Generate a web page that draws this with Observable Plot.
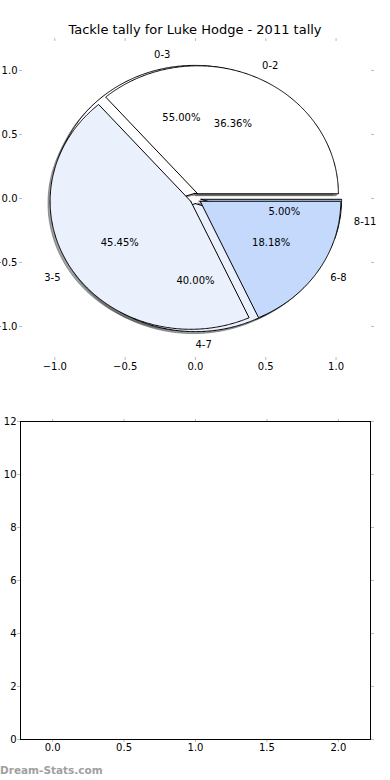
<!DOCTYPE html>
<html><head><meta charset="utf-8">
<script src="https://cdn.jsdelivr.net/npm/d3@7"></script>
<script src="https://cdn.jsdelivr.net/npm/@observablehq/plot@0.6"></script>
<style>
body{margin:0;background:#fff;width:390px;height:780px;position:relative;overflow:hidden;font-family:"DejaVu Sans",sans-serif;}
#title{position:absolute;left:0;top:22px;width:390px;text-align:center;font-size:13px;line-height:15px;color:#000;}
#pie{position:absolute;left:0;top:30px;}
#bars{position:absolute;left:0;top:410px;}
#credit{position:absolute;left:0;top:763px;font-size:10.5px;line-height:14px;font-weight:bold;color:#a0a0a0;}
</style></head><body>
<div id="title">Tackle tally for Luke Hodge - 2011 tally</div>
<div id="pie"></div>
<div id="bars"></div>
<div id="credit">Dream-Stats.com</div>
<script>
// ---- data ----
const categoriesA = ["0-2", "3-5", "6-8"];
const countsA = [4, 5, 2];
const categoriesB = ["0-3", "4-7", "8-11"];
const countsB = [11, 8, 1];
const pieTicks = [-1, -0.5, 0, 0.5, 1];
const barXTicks = [0, 0.5, 1, 1.5, 2];
const barYTicks = [0, 2, 4, 6, 8, 10, 12];
const barCategories = [];
const barValues = [];

// ---- styling ----
const sliceColors = ["#ffffff", "#eaf1fd", "#c5d9fd"];
const explode = 0.04;
const shadowOffset = [-0.015, -0.015];
const tickGrey = "#bbbbbb";

function buildPie(counts, labels) {
  const total = d3.sum(counts);
  let cum = 0;
  return counts.map((c, i) => {
    const f1 = cum; cum += c / total; const f2 = cum;
    const a1 = 2 * Math.PI * f1, a2 = 2 * Math.PI * f2, am = (a1 + a2) / 2;
    const cx = explode * Math.cos(am), cy = explode * Math.sin(am);
    const n = Math.max(2, Math.ceil((a2 - a1) / (Math.PI / 360)));
    const pts = [{x: cx, y: cy}];
    for (let k = 0; k <= n; k++) {
      const a = a1 + (a2 - a1) * k / n;
      pts.push({x: cx + Math.cos(a), y: cy + Math.sin(a)});
    }
    pts.push({x: cx, y: cy});
    const base = d3.rgb(sliceColors[i]);
    const shade = d3.rgb(base.r * 0.3, base.g * 0.3, base.b * 0.3).formatHex();
    return {
      pts,
      shadow: pts.map(p => ({x: p.x + shadowOffset[0], y: p.y + shadowOffset[1]})),
      color: sliceColors[i],
      shade,
      label: {x: cx + 1.1 * Math.cos(am), y: cy + 1.1 * Math.sin(am), text: labels[i]},
      pct: {x: cx + 0.6 * Math.cos(am), y: cy + 0.6 * Math.sin(am), text: (100 * c / total).toFixed(2) + "%"}
    };
  });
}

const pieB = buildPie(countsB, categoriesB); // drawn first (underneath)
const pieA = buildPie(countsA, categoriesA); // drawn on top
const all = [...pieB, ...pieA];

const marks = [];
for (const s of all) {
  marks.push(Plot.line(s.shadow, {x: "x", y: "y", fill: s.shade, fillOpacity: 0.5, stroke: s.shade, strokeOpacity: 0.5, strokeWidth: 1}));
}
for (const s of all) {
  marks.push(Plot.line(s.pts, {x: "x", y: "y", fill: s.color, stroke: "black", strokeWidth: 1, strokeLinejoin: "miter"}));
}
const labels = all.map(s => s.label);
const pcts = all.map(s => s.pct);
marks.push(Plot.text(labels.filter(d => d.x >= -1e-9), {x: "x", y: "y", text: "text", textAnchor: "start", fontSize: 10, fill: "black"}));
marks.push(Plot.text(labels.filter(d => d.x < -1e-9), {x: "x", y: "y", text: "text", textAnchor: "end", fontSize: 10, fill: "black"}));
marks.push(Plot.text(pcts, {x: "x", y: "y", text: "text", textAnchor: "middle", fontSize: 10, fill: "black"}));

const fmt1 = d3.format(".1f");
marks.push(Plot.axisX(pieTicks, {anchor: "bottom", tickSize: 3, tickPadding: 2, stroke: tickGrey, tickFormat: fmt1, fontSize: 10, fill: "black"}));
marks.push(Plot.axisX(pieTicks, {anchor: "top", tickSize: 3, stroke: tickGrey, tickFormat: () => ""}));
marks.push(Plot.axisY(pieTicks, {anchor: "left", tickSize: 3, tickPadding: 2, stroke: tickGrey, tickFormat: fmt1, fontSize: 10, fill: "black"}));
marks.push(Plot.axisY(pieTicks, {anchor: "right", tickSize: 3, stroke: tickGrey, tickFormat: () => ""}));

const pie = Plot.plot({
  width: 390, height: 350,
  marginTop: 10, marginBottom: 23, marginLeft: 22, marginRight: 20,
  x: {type: "linear", domain: [-1.23, 1.245], label: null},
  y: {type: "linear", domain: [-1.242, 1.234], label: null},
  style: {fontFamily: "DejaVu Sans", fontSize: "10px", background: "transparent", color: "black"},
  marks
});
document.getElementById("pie").appendChild(pie);

const bars = Plot.plot({
  width: 390, height: 350,
  marginTop: 11, marginBottom: 21, marginLeft: 20, marginRight: 20,
  x: {type: "linear", domain: [-0.225, 2.225], label: null},
  y: {type: "linear", domain: [0, 12], label: null},
  style: {fontFamily: "DejaVu Sans", fontSize: "10px", background: "transparent", color: "black"},
  marks: [
    Plot.rectY(barValues, {x1: (d, i) => i - 0.2, x2: (d, i) => i + 0.2, y: d => d, fill: sliceColors[2]}),
    Plot.axisX(barXTicks, {anchor: "bottom", tickSize: 3, tickPadding: 1, stroke: tickGrey, tickFormat: fmt1, fontSize: 10, fill: "black"}),
    Plot.axisX(barXTicks, {anchor: "top", tickSize: 3, stroke: tickGrey, tickFormat: () => ""}),
    Plot.axisY(barYTicks, {anchor: "left", tickSize: 3, tickPadding: 1, stroke: tickGrey, tickFormat: d3.format("d"), fontSize: 10, fill: "black"}),
    Plot.axisY(barYTicks, {anchor: "right", tickSize: 3, stroke: tickGrey, tickFormat: () => ""}),
    Plot.frame({stroke: "black", strokeWidth: 1})
  ]
});
document.getElementById("bars").appendChild(bars);
</script>
</body></html>
